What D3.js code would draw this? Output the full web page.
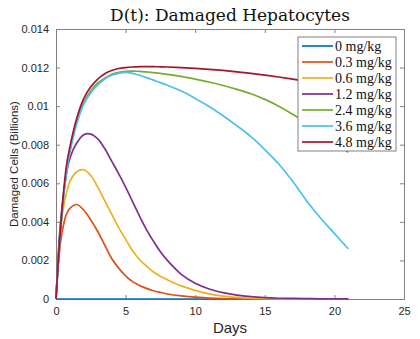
<!DOCTYPE html>
<html>
<head>
<meta charset="utf-8">
<script src="https://cdn.jsdelivr.net/npm/d3@7"></script>
<style>
  body { margin: 0; background: #fff; }
</style>
</head>
<body>
<div id="chart-area"></div>
<script>
// data
var days = [0, 0.25, 0.5, 0.75, 1, 1.5, 2, 2.5, 3, 3.5, 4, 4.5, 5, 5.5, 6, 6.5, 7, 7.5, 8, 9, 10, 11, 12, 13, 14, 15, 16, 17, 18, 19, 20, 21];
var doses = ["0 mg/kg", "0.3 mg/kg", "0.6 mg/kg", "1.2 mg/kg", "2.4 mg/kg", "3.6 mg/kg", "4.8 mg/kg"];
var colors = ["#0072BD", "#D95319", "#EDB120", "#7E2F8E", "#77AC30", "#4DBEEE", "#A2142F"];

var d0   = [0, 0, 0, 0, 0, 0, 0, 0, 0, 0, 0, 0, 0, 0, 0, 0, 0, 0, 0, 0, 0, 0, 0, 0, 0, 0, 0, 0, 0, 0, 0, 0];
var d0_3 = [0, 0.0025, 0.0037, 0.0044, 0.0047, 0.0049, 0.0046, 0.0041, 0.0035, 0.0028, 0.0021, 0.0016, 0.0012, 0.0009, 0.0007, 0.00055, 0.00043, 0.00034, 0.00026, 0.00016, 0.0001, 0.00005, 0.00002, 0.00001, 0, 0, 0, 0, 0, 0, 0, 0];
var d0_6 = [0, 0.0030, 0.0046, 0.0055, 0.0061, 0.0066, 0.0067, 0.0064, 0.0058, 0.0051, 0.0044, 0.0037, 0.0031, 0.0025, 0.00205, 0.0017, 0.0014, 0.00118, 0.0010, 0.00068, 0.00045, 0.00027, 0.00015, 0.00008, 0.00004, 0.00002, 0.00001, 0, 0, 0, 0, 0];
var d1_2 = [0, 0.0033, 0.0052, 0.0065, 0.0073, 0.0081, 0.00852, 0.00855, 0.0083, 0.0078, 0.00715, 0.0065, 0.0058, 0.00505, 0.0043, 0.0036, 0.0030, 0.00245, 0.0020, 0.00128, 0.00082, 0.00052, 0.00033, 0.0002, 0.00012, 0.00007, 0.00004, 0.00003, 0.00002, 0.00001, 0.00001, 0.00001];
var d2_4 = [0, 0.0028, 0.0050, 0.0066, 0.0077, 0.0092, 0.0102, 0.0108, 0.0112, 0.01145, 0.01165, 0.01175, 0.0118, 0.01182, 0.0118, 0.01178, 0.01174, 0.0117, 0.01165, 0.01154, 0.0114, 0.01125, 0.01107, 0.01087, 0.01064, 0.01035, 0.0100, 0.00958, 0.00912, 0.00864, 0.00812, 0.0076];
var d3_6 = [0, 0.0028, 0.0050, 0.0065, 0.0076, 0.0091, 0.0101, 0.0107, 0.0111, 0.0114, 0.0116, 0.0117, 0.01175, 0.0117, 0.0116, 0.01148, 0.01135, 0.01122, 0.01108, 0.01078, 0.0104, 0.00998, 0.0095, 0.00898, 0.00842, 0.00775, 0.0070, 0.0061, 0.0051, 0.0042, 0.0034, 0.0026];
var d4_8 = [0, 0.0029, 0.0052, 0.0069, 0.0079, 0.0094, 0.0104, 0.0110, 0.0114, 0.01168, 0.01185, 0.01195, 0.0120, 0.01203, 0.01205, 0.01205, 0.01205, 0.01204, 0.01203, 0.0120, 0.01196, 0.01191, 0.01185, 0.01178, 0.0117, 0.01161, 0.01151, 0.0114, 0.01128, 0.01115, 0.01101, 0.01086];
var series = [d0, d0_3, d0_6, d1_2, d2_4, d3_6, d4_8];

var xTicks = [0, 5, 10, 15, 20, 25];
var yTicks = [0, 0.002, 0.004, 0.006, 0.008, 0.01, 0.012, 0.014];

var margin = {top: 29, right: 16, bottom: 40, left: 56};
var width = 420 - margin.left - margin.right;
var height = 339 - margin.top - margin.bottom;
var axisColor = "#808080";
var textColor = "#262626";

var svg = d3.select("#chart-area")
    .append("svg")
    .attr("width", 420)
    .attr("height", 339);

var g = svg.append("g")
    .attr("transform", "translate(" + margin.left + ", " + margin.top + ")");

var x = d3.scaleLinear().domain([0, 25]).range([0, width]);
var y = d3.scaleLinear().domain([0, 0.014]).range([height, 0]);

// axes (ticks pointing inward, box on all sides)
var xAxisCall = d3.axisBottom(x).tickValues(xTicks).tickSize(-4).tickPadding(8).tickFormat(d3.format("d"));
var yAxisCall = d3.axisLeft(y).tickValues(yTicks).tickSize(-4).tickPadding(7).tickFormat((d) => { return d === 0 ? "0" : d3.format("")(+d.toFixed(3)); });

var xAxisGroup = g.append("g").attr("transform", "translate(0, " + height + ")").call(xAxisCall);
var yAxisGroup = g.append("g").call(yAxisCall);
var xTop = g.append("g").call(d3.axisTop(x).tickValues(xTicks).tickSize(-4).tickFormat(""));
var yRight = g.append("g").attr("transform", "translate(" + width + ", 0)").call(d3.axisRight(y).tickValues(yTicks).tickSize(-4).tickFormat(""));

[xAxisGroup, yAxisGroup, xTop, yRight].forEach((a) => {
    a.select(".domain").attr("stroke", axisColor).attr("stroke-width", 1);
    a.selectAll(".tick line").attr("stroke", axisColor);
    a.selectAll("text")
        .style("fill", textColor)
        .style("font-family", "Liberation Sans, Arial, sans-serif")
        .style("font-size", "11px");
});

// lines
var line = d3.line()
    .x((d, i) => { return x(days[i]); })
    .y((d) => { return y(d); })
    .curve(d3.curveCatmullRom.alpha(0.5));

g.selectAll(".series")
    .data(series)
    .enter().append("path")
    .attr("class", "series")
    .attr("d", (d) => { return line(d); })
    .attr("fill", "none")
    .attr("stroke", (d, i) => { return colors[i]; })
    .attr("stroke-width", 1.7);

// labels
svg.append("text")
    .attr("x", 230)
    .attr("y", 21)
    .attr("text-anchor", "middle")
    .style("font-family", "DejaVu Serif, serif")
    .style("font-size", "17px")
    .style("fill", "#111")
    .text("D(t): Damaged Hepatocytes");

svg.append("text")
    .attr("x", 230)
    .attr("y", 333)
    .attr("text-anchor", "middle")
    .style("font-family", "Liberation Sans, Arial, sans-serif")
    .style("font-size", "15px")
    .style("fill", textColor)
    .text("Days");

svg.append("text")
    .attr("transform", "translate(18, 164) rotate(-90)")
    .attr("text-anchor", "middle")
    .style("font-family", "Liberation Sans, Arial, sans-serif")
    .style("font-size", "11.5px")
    .style("fill", textColor)
    .text("Damaged Cells (Billions)");

// legend
var legend = svg.append("g").attr("transform", "translate(298, 37)");
legend.append("rect")
    .attr("width", 98)
    .attr("height", 114)
    .attr("fill", "#fff")
    .attr("stroke", axisColor)
    .attr("stroke-width", 1);

var items = legend.selectAll(".item")
    .data(doses)
    .enter().append("g")
    .attr("class", "item")
    .attr("transform", (d, i) => { return "translate(0, " + (9 + i * 16) + ")"; });

items.append("line")
    .attr("x1", 4).attr("x2", 35)
    .attr("stroke", (d, i) => { return colors[i]; })
    .attr("stroke-width", 1.7);

items.append("text")
    .attr("x", 37)
    .attr("y", 4.5)
    .style("font-family", "Liberation Serif, serif")
    .style("font-size", "14px")
    .style("fill", "#111")
    .text((d) => { return d; });
</script>
</body>
</html>
